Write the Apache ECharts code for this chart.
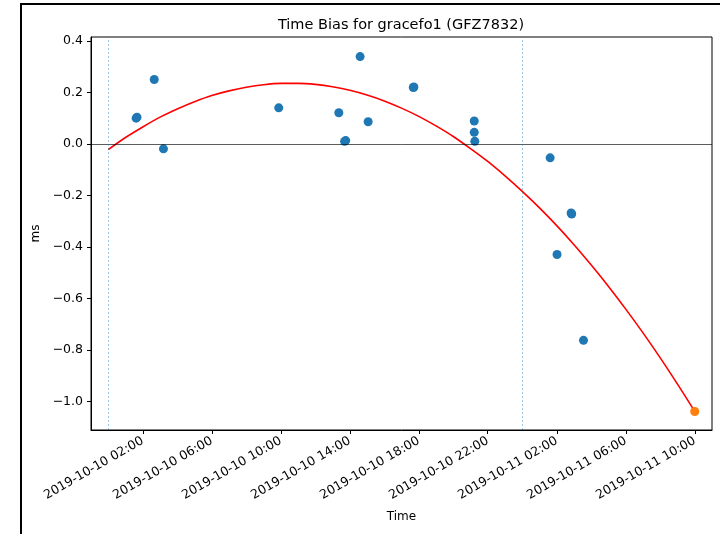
<!DOCTYPE html>
<html>
<head>
<meta charset="utf-8">
<script src="https://cdn.jsdelivr.net/npm/echarts@6/dist/echarts.min.js"></script>
<style>
html,body{margin:0;padding:0;background:#fff;}
#chart{width:720px;height:534px;}
</style>
</head>
<body>
<div id="chart"></div>
<script>
// ---- data ----
const obsTimes = ['2019-10-10 01:37','2019-10-10 01:40','2019-10-10 02:40','2019-10-10 03:12','2019-10-10 09:53',
  '2019-10-10 13:22','2019-10-10 13:42','2019-10-10 13:46','2019-10-10 14:36','2019-10-10 15:04',
  '2019-10-10 17:41','2019-10-10 17:43','2019-10-10 21:13','2019-10-10 21:13','2019-10-10 21:15',
  '2019-10-11 01:37','2019-10-11 02:01','2019-10-11 02:50','2019-10-11 02:52','2019-10-11 03:33'];
const obsValues = [0.100,0.104,0.250,-0.019,0.140,
  0.121,0.010,0.013,0.339,0.086,
  0.219,0.221,0.089,0.045,0.010,
  -0.054,-0.429,-0.268,-0.272,-0.762];

const fitTimes = ['2019-10-10 00:00','2019-10-10 01:00','2019-10-10 02:00','2019-10-10 03:00','2019-10-10 04:00',
  '2019-10-10 05:00','2019-10-10 06:00','2019-10-10 07:00','2019-10-10 08:00','2019-10-10 09:00',
  '2019-10-10 10:00','2019-10-10 11:00','2019-10-10 12:00','2019-10-10 13:00','2019-10-10 14:00',
  '2019-10-10 15:00','2019-10-10 16:00','2019-10-10 17:00','2019-10-10 18:00','2019-10-10 19:00',
  '2019-10-10 20:00','2019-10-10 21:00','2019-10-10 22:00','2019-10-10 23:00','2019-10-11 00:00',
  '2019-10-11 01:00','2019-10-11 02:00','2019-10-11 03:00','2019-10-11 04:00','2019-10-11 05:00',
  '2019-10-11 06:00','2019-10-11 07:00','2019-10-11 08:00','2019-10-11 09:00','2019-10-11 10:00'];
const fitValues = [-0.022,0.025,0.066,0.104,0.136,
  0.164,0.188,0.206,0.220,0.230,
  0.235,0.235,0.231,0.222,0.208,
  0.190,0.167,0.139,0.107,0.070,
  0.029,-0.018,-0.068,-0.124,-0.184,
  -0.248,-0.317,-0.391,-0.470,-0.553,
  -0.641,-0.733,-0.830,-0.932,-1.038];

const predTimes = ['2019-10-11 10:00'];
const predValues = [-1.038];

const dayLines = ['2019-10-10 00:00','2019-10-11 00:00'];

const xTickLabels = ['2019-10-10 02:00','2019-10-10 06:00','2019-10-10 10:00','2019-10-10 14:00','2019-10-10 18:00',
  '2019-10-10 22:00','2019-10-11 02:00','2019-10-11 06:00','2019-10-11 10:00'];
const yTickLabels = [-1.0,-0.8,-0.6,-0.4,-0.2,0.0,0.2,0.4];

const xRange = ['2019-10-09 23:00','2019-10-11 11:00'];
const yRange = [-1.11, 0.415];

// ---- helpers ----
function toMs(s){
  const [d,t] = s.split(' ');
  const [Y,M,D] = d.split('-').map(Number);
  const [h,m] = t.split(':').map(Number);
  return Date.UTC(Y,M-1,D,h,m);
}
function pad(n){return (n<10?'0':'')+n;}
function fmt(ms){
  const d = new Date(ms);
  return d.getUTCFullYear()+'-'+pad(d.getUTCMonth()+1)+'-'+pad(d.getUTCDate())+' '+pad(d.getUTCHours())+':'+pad(d.getUTCMinutes());
}
const zip = (ts, vs) => ts.map((t,i)=>[toMs(t), vs[i]]);

const FONT = 'DejaVu Sans';
const chart = echarts.init(document.getElementById('chart'), null, {renderer:'canvas'});
const xTicks = xTickLabels.map(toMs);

chart.setOption({
  animation:false,
  backgroundColor:'#fff',
  graphic:[
    {
      type:'rect', shape:{x:21, y:4, width:760, height:600},
      style:{fill:null, stroke:'#000', lineWidth:2}, silent:true, z:100
    },
    {
      type:'text', x:401, y:25, silent:true,
      style:{text:'Time Bias for gracefo1 (GFZ7832)', fontFamily:FONT, fontSize:14.5, fill:'#000',
        textAlign:'center', textVerticalAlign:'middle'}
    }
  ],
  grid:{left:91, right:8, top:37, bottom:104, show:true, borderColor:'#000', borderWidth:1, containLabel:false, outerBoundsMode:'none'},
  xAxis:{
    type:'value',
    min:toMs(xRange[0]), max:toMs(xRange[1]),
    name:'Time', nameLocation:'middle', nameGap:81,
    nameTextStyle:{fontFamily:FONT, fontSize:12, color:'#000'},
    splitLine:{show:false},
    axisLine:{show:true, onZero:false, lineStyle:{color:'#000', width:1}},
    axisTick:{show:true, length:4, customValues:xTicks, lineStyle:{color:'#000', width:1}},
    axisLabel:{
      customValues:xTicks, rotate:30, margin:10,
      fontFamily:FONT, fontSize:12.5, color:'#000',
      formatter:(v)=>fmt(v)
    }
  },
  yAxis:{
    type:'value',
    min:yRange[0], max:yRange[1],
    name:'ms', nameLocation:'middle', nameGap:41,
    nameTextStyle:{fontFamily:FONT, fontSize:12, color:'#000'},
    splitLine:{show:false},
    axisLine:{show:true, onZero:false, lineStyle:{color:'#000', width:1}},
    axisTick:{show:true, length:4, customValues:yTickLabels, lineStyle:{color:'#000', width:1}},
    axisLabel:{
      customValues:yTickLabels, margin:8,
      fontFamily:FONT, fontSize:12.5, color:'#000',
      formatter:(v)=>v.toFixed(1).replace('-','\u2212')
    }
  },
  series:[
    {
      type:'line', name:'fit',
      data:zip(fitTimes, fitValues),
      smooth:0.3, showSymbol:false, symbol:'none',
      lineStyle:{color:'#ff0000', width:1.6},
      z:2,
      markLine:{
        silent:true, symbol:'none', label:{show:false},
        data:[
          {yAxis:0, lineStyle:{color:'#000', width:0.8, type:'solid', opacity:0.8}},
          ...dayLines.map(t=>({xAxis:toMs(t), lineStyle:{color:'#1f77b4', width:0.6, type:[2,2], opacity:0.7}}))
        ]
      }
    },
    {
      type:'scatter', name:'obs',
      data:zip(obsTimes, obsValues),
      symbolSize:9,
      itemStyle:{color:'#1f77b4', opacity:1},
      z:3
    },
    {
      type:'scatter', name:'pred',
      data:zip(predTimes, predValues),
      symbolSize:9,
      itemStyle:{color:'#ff7f0e', opacity:1},
      z:4
    }
  ]
});
</script>
</body>
</html>
